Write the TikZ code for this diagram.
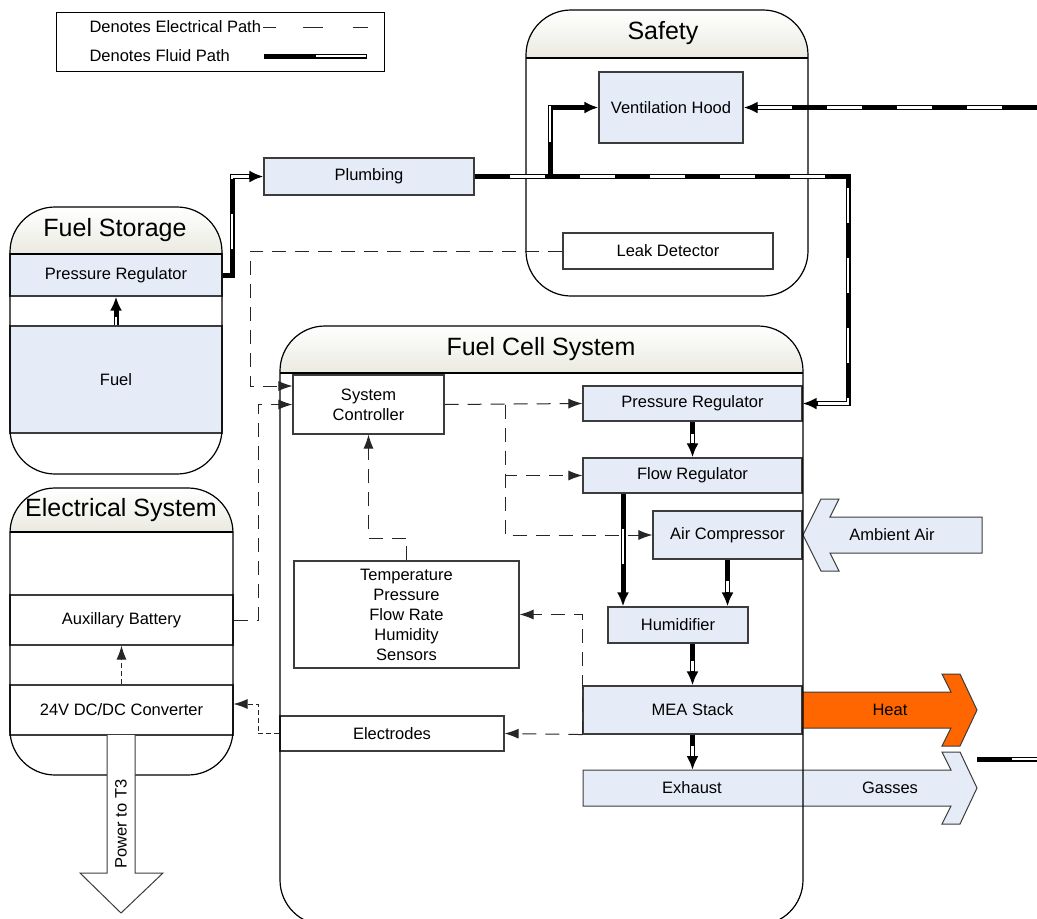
\documentclass[tikz,border=0pt]{standalone}
\usepackage{fontspec}
\setmainfont{Liberation Sans}
\usetikzlibrary{arrows.meta}

\definecolor{boxblue}{RGB}{229,236,247}
\definecolor{hdrfill}{RGB}{234,234,225}
\definecolor{heatorange}{RGB}{255,102,0}
\definecolor{edge}{RGB}{60,60,60}

% header of a tank: x1 y1 x2 y2 ysep
\newcommand{\tankhead}[5]{%
  \begin{scope}
    \clip[rounded corners=45pt] (#1,#2) rectangle (#3,#4);
    \shade[top color=white,bottom color=hdrfill] (#1,#2) rectangle (#3,#5);
  \end{scope}}
\newcommand{\tankedge}[5]{%
  \draw[line width=1.2pt, rounded corners=45pt] (#1,#2) rectangle (#3,#4);
  \draw[line width=1.2pt] (#1,#5) -- (#3,#5);}

\tikzset{
  blk/.style={draw=edge, line width=1.1pt, fill=boxblue, inner sep=0pt,
    font=\fontsize{16.5}{20}\selectfont, align=center},
  wht/.style={blk, fill=white},
  title/.style={font=\fontsize{25}{30}\selectfont},
  lbl/.style={font=\fontsize{16.5}{20}\selectfont},
  elec/.style={draw=black!85, line width=1pt, dash pattern=on 14pt off 9pt},
  eshort/.style={elec, dash pattern=on 5pt off 3pt},
  etip/.style={-{Latex[length=14pt,width=10pt]}},
  fluid/.style={line width=5pt,
    postaction={draw=white, line width=2.4pt, arrows=-,
      dash pattern=on 35pt off 35pt, dash phase=35pt}},
  fluidarr/.style={line width=5pt, -{Latex[length=14pt,width=12pt]},
    postaction={draw=white, line width=2.4pt, arrows=-, shorten >=14pt,
      dash pattern=on 35pt off 35pt, dash phase=#1}},
  fluidarr/.default=35pt,
}

\begin{document}
\begin{tikzpicture}[x=1pt,y=-1pt]
			%%%%% START %%%%%
			\useasboundingbox (0,0) rectangle (1037,919);
			\clip (0,0) rectangle (1037,919);
			\fill[white] (0,0) rectangle (1037,919);
			
			% legend
			\draw[line width=1pt] (56,12) rectangle (384,71);
			\node[lbl, anchor=west] (lgelec) at (86,27) {Denotes Electrical Path};
			\node[lbl, anchor=west] (lgfluid) at (86,56) {Denotes Fluid Path};
			\draw[elec, dash pattern=on 13pt off 27pt on 20pt off 30pt on 15pt] (263,27) -- (370,27);
			\draw[line width=5pt] (264,56) -- (367,56);
			\draw[white, line width=2.4pt] (316,56) -- (366,56);
			
			% tank headers
			\tankhead{526}{10}{808}{296}{58}
			\tankhead{10}{207}{222}{474}{254}
			\tankhead{280}{326}{803}{925}{373}
			\tankhead{10}{488}{233}{775}{532}
			
			\node[title] (tsafety) at (663,33) {Safety};
			\node[title] (tfuel) at (115,230) {Fuel Storage};
			\node[title] (tfcs) at (541,349) {Fuel Cell System};
			\node[title] (telec) at (121,510) {Electrical System};
			
			% fuel storage
			\node[blk, minimum width=212pt, minimum height=42pt] (fsreg) at (116,275) {Pressure Regulator};
			\node[blk, minimum width=212pt, minimum height=107pt] (fuel) at (116,379.5) {Fuel};
			
			% electrical system
			\node[wht, minimum width=223pt, minimum height=50pt] (batt) at (121.5,620) {Auxillary Battery};
			\node[wht, minimum width=223pt, minimum height=50pt] (conv) at (121.5,710) {24V DC/DC Converter};
			
			% safety
			\node[blk, minimum width=144pt, minimum height=71pt] (vhood) at (671,107.5) {Ventilation Hood};
			\node[wht, minimum width=210pt, minimum height=36pt] (leak) at (668,251) {Leak Detector};
			
			\node[blk, minimum width=210pt, minimum height=37pt] (plumb) at (369,176.5) {Plumbing};
			
			% fuel cell system
			\node[wht, minimum width=151pt, minimum height=59pt] (ctrl) at (368.5,404.5) {System\\Controller};
			\node[blk, minimum width=219pt, minimum height=35pt] (preg) at (692.5,403.5) {Pressure Regulator};
			\node[blk, minimum width=219pt, minimum height=35pt] (flow) at (692.5,475.5) {Flow Regulator};
			\node[blk, minimum width=149pt, minimum height=48pt] (comp) at (727.5,535) {Air Compressor};
			\node[blk, minimum width=140pt, minimum height=36pt] (humid) at (678,625) {Humidifier};
			\node[blk, minimum width=219pt, minimum height=48pt] (mea) at (692.5,710) {MEA Stack};
			\node[wht, minimum width=225pt, minimum height=107pt] (sens) at (406.5,614.5) {Temperature\\Pressure\\Flow Rate\\Humidity\\Sensors};
			\node[wht, minimum width=224pt, minimum height=35pt] (elect) at (392,733.5) {Electrodes};
			
			% big arrows
			\draw[draw=edge, line width=1pt, fill=heatorange] (802,692) -- (951,692) -- (942,674) -- (960,674) -- (977,710) -- (960,746) -- (942,746) -- (951,728) -- (802,728) -- cycle;
			\node[lbl] (heat) at (890,710) {Heat};
			\draw[draw=edge, line width=1pt, fill=boxblue] (583,770) -- (951,770) -- (942,752) -- (960,752) -- (977,788) -- (960,824) -- (942,824) -- (951,806) -- (583,806) -- cycle;
			\node[lbl] (exhaust) at (692,788) {Exhaust};
			\node[lbl] (gasses) at (890,788) {Gasses};
			\draw[draw=edge, line width=1pt, fill=boxblue] (982,517) -- (830,517) -- (839,499) -- (821,499) -- (803,535) -- (821,571) -- (839,571) -- (830,553) -- (982,553) -- cycle;
			\node[lbl] (ambient) at (892,535) {Ambient Air};
			
			% tank outlines
			\tankedge{526}{10}{808}{296}{58}
			\tankedge{10}{207}{222}{474}{254}
			\tankedge{280}{326}{803}{925}{373}
			\tankedge{10}{488}{233}{775}{532}
			
			\draw[draw=edge, line width=1pt, fill=white] (107,735) -- (107,873) -- (80,873) -- (121,913) -- (163,873) -- (135,873) -- (135,735);
			\node[lbl, rotate=90] (power) at (121,824) {Power to T3};
			
			% fluid paths
			\coordinate (ventin) at (1037,107.5);
			\coordinate (hoodsplit) at (550,176.5);
			\coordinate (exh) at (692.5,770);
			\coordinate (gasout) at (977,759);
			\coordinate (gasend) at (1037,759);
			
			\draw[fluidarr=27pt] (fuel.north) -- (fsreg.south);
			\draw[fluidarr] (fsreg.east) -| (232,176.5) -- (plumb.west);
			\draw[fluidarr] (plumb.east) -| (848,403.5) -- (preg.east);
			\draw[fluidarr] (hoodsplit) |- (vhood.west);
			\draw[fluidarr] (ventin) -- (vhood.east);
			\draw[fluidarr=58pt] (preg.south) -- (flow.north);
			\draw[fluidarr] (flow.south -| 623,0) -- (humid.north -| 623,0);
			\draw[fluidarr=49pt] (comp.south) -- (humid.north -| comp.south);
			\draw[fluidarr=53pt] (humid.south -| mea.north) -- (mea.north);
			\draw[fluidarr=59pt] (mea.south) -- (exh);
			\draw[fluid] (gasout) -- (gasend);
			
			% electrical paths
			\coordinate (ctrlsplit) at (505,404.5);
			
			\draw[elec, etip] (leak.west) -| (250,386) -- (ctrl.west |- 250,386);
			\draw[elec, etip] (batt.east) -| (258,404.5) -- (ctrl.west);
			\draw[eshort, etip] (elect.west) -| (258,704) -- (conv.east |- 0,704);
			\draw[eshort, etip] (conv.north) -- (batt.south);
			\draw[elec, etip] (ctrl.east) -- (preg.west);
			\draw[elec, etip] (ctrlsplit) |- (flow.west);
			\draw[elec, etip] (ctrlsplit) |- (comp.west);
			\draw[elec, etip] (sens.north) |- (368.5,538) -- (ctrl.south);
			\draw[elec, etip] (mea.south west) -- (elect.east);
			\draw[elec, etip] (mea.south west) |- (sens.east);
			
			%%%%% END %%%%%
\end{tikzpicture}
\end{document}
